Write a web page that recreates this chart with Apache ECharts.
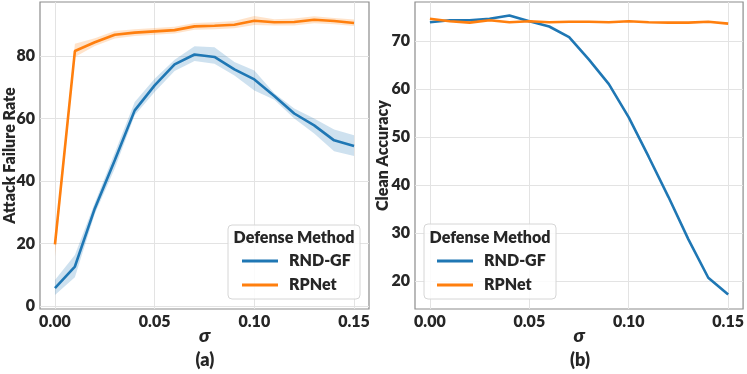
<!DOCTYPE html>
<html>
<head>
<meta charset="utf-8">
<script src="https://cdn.jsdelivr.net/npm/echarts@6/dist/echarts.min.js"></script>
<style>
  html, body { margin: 0; padding: 0; background: #fff; }
  #chart { width: 747px; height: 374px; }
</style>
</head>
<body>
<div id="chart"></div>
<script>
// 数据
const sigma = [0, 0.01, 0.02, 0.03, 0.04, 0.05, 0.06, 0.07, 0.08, 0.09, 0.10, 0.11, 0.12, 0.13, 0.14, 0.15];
const seriesNames = ['RND-GF', 'RPNet'];

// (a) Attack Failure Rate
const afrRnd   = [5.7, 12.6, 31.2, 46.6, 62.6, 70.6, 77.3, 80.5, 79.7, 75.7, 72.5, 67.2, 61.6, 57.8, 53.0, 51.2];
const afrRndLo = [3.5, 9.2, 29.5, 44.0, 61.0, 68.5, 75.2, 78.4, 77.5, 73.8, 69.0, 66.0, 60.0, 55.2, 49.5, 48.0];
const afrRndHi = [8.3, 16.3, 33.0, 49.0, 65.3, 72.7, 78.8, 83.1, 82.8, 78.1, 75.4, 68.1, 63.2, 60.0, 56.5, 54.6];
const afrRp    = [19.7, 81.6, 84.4, 86.8, 87.5, 87.9, 88.3, 89.5, 89.7, 90.0, 91.3, 90.8, 90.9, 91.6, 91.2, 90.6];
const afrRpLo  = [15.8, 79.7, 83.2, 85.6, 86.4, 86.8, 87.2, 88.4, 88.6, 88.9, 89.9, 89.8, 89.8, 90.5, 90.2, 89.6];
const afrRpHi  = [21.5, 83.9, 85.7, 88.0, 88.6, 89.0, 89.4, 90.6, 90.8, 91.2, 92.8, 91.8, 92.0, 92.7, 92.2, 91.7];

// (b) Clean Accuracy
const caRnd = [73.9, 74.3, 74.3, 74.6, 75.3, 74.1, 73.0, 70.8, 66.1, 61.0, 54.1, 45.9, 37.5, 28.7, 20.7, 17.2];
const caRp  = [74.6, 74.1, 73.8, 74.3, 73.9, 74.1, 73.9, 74.0, 74.0, 73.9, 74.1, 73.9, 73.8, 73.8, 74.0, 73.6];

// 刻度
const xTicks = [0, 0.05, 0.10, 0.15];
const yTicksA = [0, 20, 40, 60, 80];
const yTicksB = [20, 30, 40, 50, 60, 70];

const BLUE = '#1f77b4';
const ORANGE = '#ff7f0e';
const FONT = 'Lato';
const WEIGHT = 800;
const TXT = '#262626';

const chart = echarts.init(document.getElementById('chart'));

function xAxisOf(idx) {
    return {
        type: 'value',
        gridIndex: idx,
        min: -0.0075,
        max: 0.1575,
        name: 'σ',
        nameLocation: 'middle',
        nameGap: 17,
        nameMoveOverlap: false,
        nameTextStyle: { fontFamily: FONT, fontWeight: WEIGHT, fontStyle: 'italic', fontSize: 19, color: TXT },
        axisLine: { show: false },
        axisTick: { show: false, customValues: xTicks },
        axisLabel: {
            customValues: xTicks,
            margin: 5,
            fontFamily: FONT, fontWeight: WEIGHT, fontSize: 16, color: TXT,
            formatter: v => v.toFixed(2)
        },
        splitLine: { show: true, lineStyle: { color: '#e3e3e3', width: 1 } }
    };
}

function yAxisOf(idx, min, max, ticks, name, gap) {
    return {
        type: 'value',
        gridIndex: idx,
        min: min,
        max: max,
        name: name,
        nameLocation: 'middle',
        nameGap: gap,
        nameMoveOverlap: false,
        nameTextStyle: { fontFamily: FONT, fontWeight: WEIGHT, fontSize: 16, color: TXT },
        axisLine: { show: false },
        axisTick: { show: false, customValues: ticks },
        axisLabel: {
            customValues: ticks,
            margin: 5,
            fontFamily: FONT, fontWeight: WEIGHT, fontSize: 16, color: TXT
        },
        splitLine: { show: true, lineStyle: { color: '#e3e3e3', width: 1 } }
    };
}

function lineSeries(name, idx, values, color) {
    return {
        name: name,
        type: 'line',
        xAxisIndex: idx,
        yAxisIndex: idx,
        data: sigma.map((s, i) => [s, values[i]]),
        symbol: 'none',
        lineStyle: { color: color, width: 2.6 },
        itemStyle: { color: color },
        z: 3
    };
}

// 置信区间
function bandSeries(idx, lo, hi, color) {
    return {
        type: 'custom',
        xAxisIndex: idx,
        yAxisIndex: idx,
        silent: true,
        z: 2,
        data: [[sigma[0], lo[0]]],
        renderItem: (params, api) => {
            const pts = [];
            sigma.forEach((s, i) => pts.push(api.coord([s, hi[i]])));
            for (let i = sigma.length - 1; i >= 0; i--) pts.push(api.coord([sigma[i], lo[i]]));
            return { type: 'polygon', shape: { points: pts }, style: { fill: color, opacity: 0.22 } };
        }
    };
}

function legendOf(left) {
    return {
        data: seriesNames,
        orient: 'vertical',
        left: left,
        top: 253,
        padding: 0,
        itemGap: 8,
        icon: 'rect',
        itemWidth: 36,
        itemHeight: 3,
        selectedMode: false,
        z: 20,
        textStyle: { fontFamily: FONT, fontWeight: WEIGHT, fontSize: 16, color: TXT, lineHeight: 16, padding: [0, 0, 0, 6] }
    };
}

function legendBox(x, y, w, h) {
    return [
        {
            type: 'rect', z: 15,
            shape: { x: x, y: y, width: w, height: h, r: 4 },
            style: { fill: 'rgba(255,255,255,0.85)', stroke: '#d6d6d6', lineWidth: 1 }
        },
        {
            type: 'text', z: 16,
            x: x + w / 2, y: 238,
            style: { text: 'Defense Method', fontFamily: FONT, fontWeight: WEIGHT, fontSize: 16, fill: TXT, align: 'center', verticalAlign: 'middle' }
        }
    ];
}

function panelLabel(text, x) {
    return {
        type: 'text', z: 16,
        x: x, y: 360,
        style: { text: text, fontFamily: FONT, fontWeight: WEIGHT, fontSize: 18, fill: TXT, align: 'center', verticalAlign: 'middle' }
    };
}

const option = {
    animation: false,
    backgroundColor: '#fff',
    grid: [
        { left: 40, top: 2, width: 329, height: 307, show: true, borderColor: '#8c8c8c', borderWidth: 1.2, backgroundColor: 'transparent' },
        { left: 415, top: 2, width: 329, height: 307, show: true, borderColor: '#8c8c8c', borderWidth: 1.2, backgroundColor: 'transparent' }
    ],
    xAxis: [xAxisOf(0), xAxisOf(1)],
    yAxis: [
        yAxisOf(0, -1, 97.3, yTicksA, 'Attack Failure Rate', 22),
        yAxisOf(1, 14.2, 78.1, yTicksB, 'Clean Accuracy', 24)
    ],
    legend: [legendOf(242), legendOf(437)],
    graphic: [
        ...legendBox(228, 225, 132, 74),
        ...legendBox(424, 224, 132, 75),
        panelLabel('(a)', 205),
        panelLabel('(b)', 580)
    ],
    series: [
        bandSeries(0, afrRndLo, afrRndHi, BLUE),
        bandSeries(0, afrRpLo, afrRpHi, ORANGE),
        lineSeries('RND-GF', 0, afrRnd, BLUE),
        lineSeries('RPNet', 0, afrRp, ORANGE),
        lineSeries('RND-GF', 1, caRnd, BLUE),
        lineSeries('RPNet', 1, caRp, ORANGE)
    ]
};

chart.setOption(option);
window.addEventListener('resize', () => chart.resize());
</script>
</body>
</html>
